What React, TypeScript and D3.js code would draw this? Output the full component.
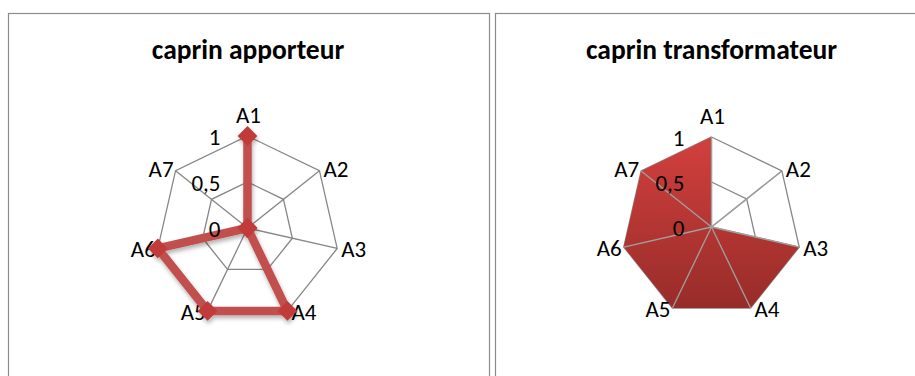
import React from 'react';
import * as d3 from 'd3';

// axes of both radar charts
const categories = ['A1', 'A2', 'A3', 'A4', 'A5', 'A6', 'A7'];
const ticks = [0, 0.5, 1];
const tickLabels = ['0', '0,5', '1'];

const apporteurValues = [1, 0, 0, 1, 1, 1, 0];
const transformateurValues = [1, 0, 1, 1, 1, 1, 1];

const W = 915;
const H = 376;
const font = 'Carlito, Lato, "Open Sans", sans-serif';

const angle = d3.scaleBand<string>().domain(categories).range([0, 2 * Math.PI]).align(0);

function makeRadar(R: number) {
  const radius = d3.scaleLinear().domain([0, 1]).range([0, R]);
  const pt = (cat: string, v: number) => {
    const a = angle(cat)!;
    return [radius(v) * Math.sin(a), -radius(v) * Math.cos(a)];
  };
  const line = d3
    .lineRadial<number>()
    .angle((d, i) => angle(categories[i])!)
    .radius(d => radius(d))
    .curve(d3.curveLinearClosed);
  return { radius, pt, line };
}

type Radar = ReturnType<typeof makeRadar>;

function Spokes({ r, color }: { r: Radar; color: string }) {
  return (
    <g>
      {categories.map(c => {
        const [x, y] = r.pt(c, 1);
        return <line key={c} x1={0} y1={0} x2={x} y2={y} stroke={color} strokeWidth={1.3} />;
      })}
    </g>
  );
}

function Grid({ r }: { r: Radar }) {
  return (
    <g>
      {ticks.filter(t => t > 0).map(t => (
        <path key={t} d={r.line(categories.map(() => t)) || ''} fill="none" stroke="#868686" strokeWidth={1.3} />
      ))}
      <Spokes r={r} color="#868686" />
    </g>
  );
}

function CatLabels({ r }: { r: Radar }) {
  return (
    <g fontFamily={font} fontSize={23} fill="#000">
      {categories.map(c => {
        const [x, y] = r.pt(c, 1);
        const a = angle(c)!;
        let anchor = 'middle';
        if (Math.sin(a) > 0.1) anchor = 'start';
        if (Math.sin(a) < -0.1) anchor = 'end';
        const dx = anchor === 'start' ? 4 : anchor === 'end' ? -2 : 1;
        const dy = anchor === 'middle' ? -13 : Math.cos(a) > 0.5 ? 6 : 9;
        return (
          <text key={c} x={x + dx} y={y + dy} textAnchor={anchor}>
            {c}
          </text>
        );
      })}
    </g>
  );
}

function TickLabels({ r }: { r: Radar }) {
  return (
    <g fontFamily={font} fontSize={23} fill="#000">
      {ticks.map((t, i) => (
        <text key={t} x={-27} y={-r.radius(t) + 9} textAnchor="end">
          {tickLabels[i]}
        </text>
      ))}
    </g>
  );
}

const left = makeRadar(92);
const right = makeRadar(90);

export default function App() {
  return (
    <svg width={W} height={H} style={{ position: 'absolute', left: 0, top: 0 }}>
      <defs>
        <linearGradient id="redFill" x1="0" y1="0" x2="0" y2="1">
          <stop offset="0" stopColor="#d2403e" />
          <stop offset="1" stopColor="#972c29" />
        </linearGradient>
        <filter id="shadow" x="-20%" y="-20%" width="140%" height="140%">
          <feDropShadow dx="1" dy="3" stdDeviation="2" floodColor="#000" floodOpacity="0.3" />
        </filter>
      </defs>
      <rect x={0} y={0} width={W} height={H} fill="#fff" />
      <rect x={8.5} y={13.5} width={481} height={400} fill="none" stroke="#8c8c8c" strokeWidth={1.2} />
      <rect x={495.5} y={13.5} width={440} height={400} fill="none" stroke="#8c8c8c" strokeWidth={1.2} />

      <text x={248} y={59} textAnchor="middle" fontFamily={font} fontWeight="bold" fontSize={27.5}>
        caprin apporteur
      </text>
      <text x={711.5} y={59} textAnchor="middle" fontFamily={font} fontWeight="bold" fontSize={27.5}>
        caprin transformateur
      </text>

      <g transform="translate(247.5,228)">
        <Grid r={left} />
        <CatLabels r={left} />
        <g filter="url(#shadow)">
          <path d={left.line(apporteurValues) || ''} fill="none" stroke="#c0504d" strokeWidth={8.5} strokeLinejoin="round" />
          {apporteurValues.map((v, i) => {
            const [x, y] = left.pt(categories[i], v);
            return (
              <rect key={i} x={x - 7} y={y - 7} width={14} height={14} fill="#c23b3b" transform={`rotate(45 ${x} ${y})`} />
            );
          })}
        </g>
        <TickLabels r={left} />
      </g>

      <g transform="translate(711.5,227)">
        <Grid r={right} />
        <path d={right.line(transformateurValues) || ''} fill="url(#redFill)" stroke="none" />
        <Spokes r={right} color="#a0a0a0" />
        <CatLabels r={right} />
        <TickLabels r={right} />
      </g>
    </svg>
  );
}
